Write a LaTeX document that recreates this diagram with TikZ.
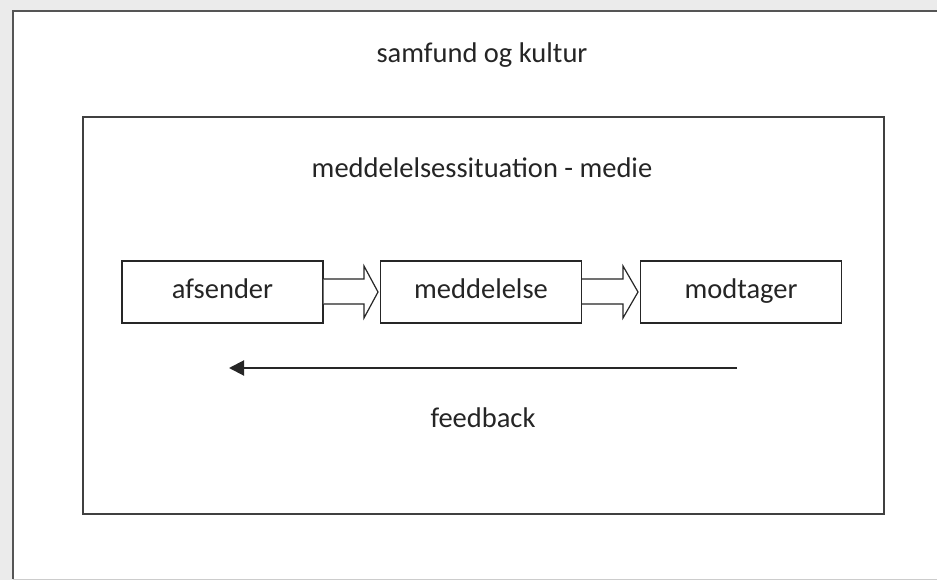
\documentclass[tikz,border=0pt]{standalone}
\usepackage{fontspec}
\setmainfont{Carlito}
\usetikzlibrary{arrows.meta}
\definecolor{framegray}{HTML}{555555}
\definecolor{bggray}{HTML}{EBEBEB}
\definecolor{txt}{HTML}{252525}
\tikzset{
  x=1pt,y=-1pt,
  frame/.style={draw=framegray,line width=2.6pt},
  box/.style={draw=black!85,line width=1.3pt,fill=white,minimum width=201pt,minimum height=62pt,inner sep=0pt,font=\fontsize{28.5}{32}\selectfont,text=txt,text height=19pt,text depth=6pt},
  lbl/.style={font=\fontsize{28.5}{32}\selectfont,text=txt,inner sep=0pt,text height=19pt,text depth=6pt},
  blockarrow/.style={draw=black!85,line width=1.2pt,fill=white,line join=miter},
  fb/.style={draw=black!85,line width=2pt,-{Triangle[length=15pt,width=15pt]}}
}
\begin{document}
\begin{tikzpicture}
\useasboundingbox (0,0) rectangle (937,580);
\begin{scope}
\clip (0,0) rectangle (937,580);
\fill[bggray] (0,0) rectangle (937,580);
\fill[white] (13,11) rectangle (940,579);
\draw[frame] (13,579) -- (13,11) -- (940,11);
\draw[draw=black!20,line width=1pt] (13,579.5) -- (940,579.5);
\end{scope}
\node[lbl] (outer) at (482,56) {samfund og kultur};
\draw[frame,line width=1.6pt,draw=black!75] (83,117) rectangle (884,514);
\node[lbl] (medie) at (482,171) {meddelelsessituation - medie};
\node[box] (afs) at (222.5,292) {afsender};
\node[box] (med) at (481,292) {meddelelse};
\node[box] (mod) at (741,292) {modtager};
\draw[blockarrow] (afs.east |- 0,279) -- (364,279) -- (364,266) -- (378,292) -- (364,318) -- (364,304) -- (afs.east |- 0,304);
\draw[blockarrow] (med.east |- 0,279) -- (623,279) -- (623,266) -- (638,292) -- (623,318) -- (623,304) -- (med.east |- 0,304);
\coordinate (fbstart) at (737,368);
\coordinate (fbend) at (229,368);
\draw[fb] (fbstart) -- (fbend);
\node[lbl] (feedback) at (483,421) {feedback};
\end{tikzpicture}
\end{document}
